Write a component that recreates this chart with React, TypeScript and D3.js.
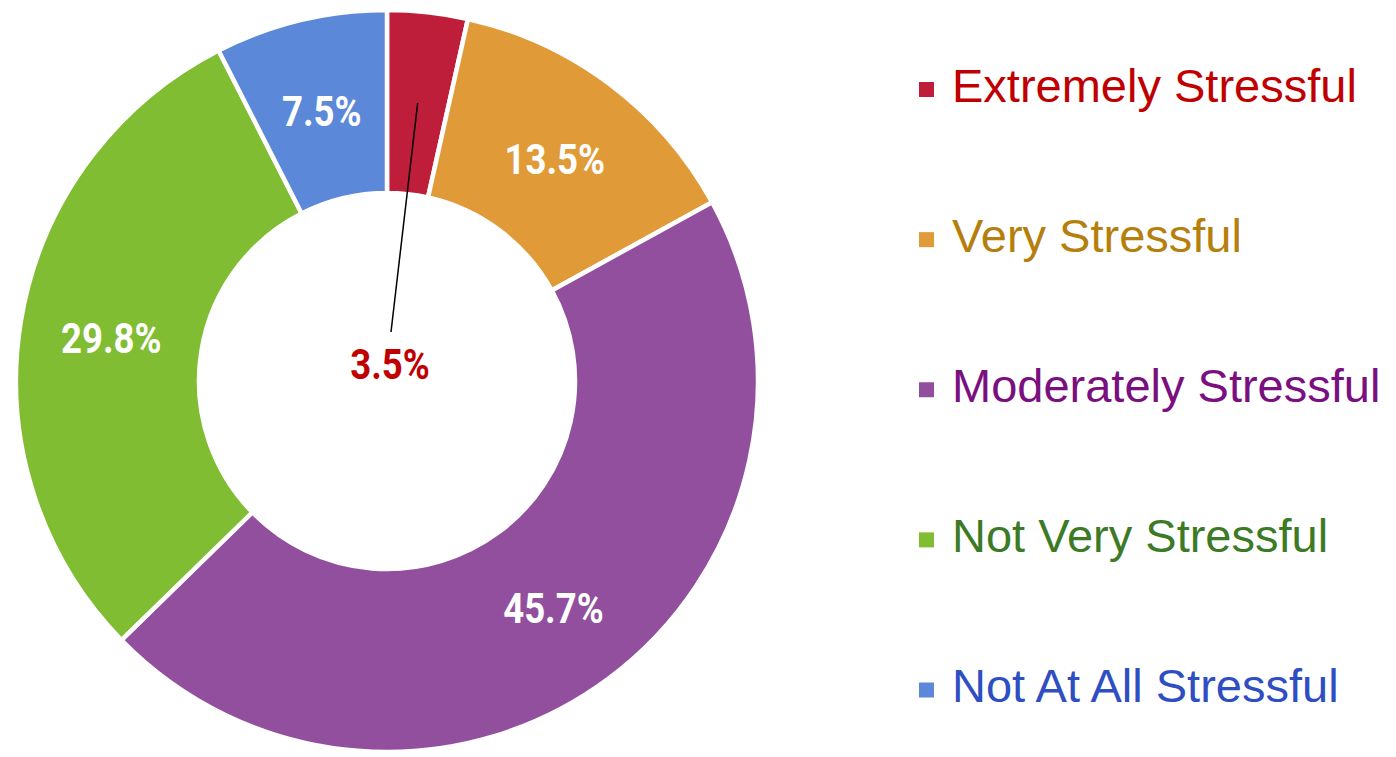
import React from "react";
import * as d3 from "d3";

const categories = [
  "Extremely Stressful",
  "Very Stressful",
  "Moderately Stressful",
  "Not Very Stressful",
  "Not At All Stressful",
];
const values = [3.5, 13.5, 45.7, 29.8, 7.5];
const sliceColors = ["#BE1E3A", "#E09B38", "#914F9E", "#80BD33", "#5B88D8"];
const legendTextColors = ["#C00000", "#B57F0E", "#7A0F7F", "#3D7A26", "#2E4EC2"];

const W = 1396;
const H = 757;
const cx = 387;
const cy = 381;
const outerR = 371;
const innerR = 188;

export default function App() {
  const pie = d3.pie<number>().sort(null).value((d) => d)(values);
  const arc = d3.arc<d3.PieArcDatum<number>>().innerRadius(innerR).outerRadius(outerR);
  const labelArc = d3
    .arc<d3.PieArcDatum<number>>()
    .innerRadius((innerR + outerR) / 2)
    .outerRadius((innerR + outerR) / 2);

  const legendY = d3.scalePoint<string>().domain(categories).range([89.5, 690]);

  return (
    <svg
      width={W}
      height={H}
      style={{ position: "absolute", left: 0, top: 0, background: "#fff" }}
    >
      <g transform={`translate(${cx},${cy})`}>
        {pie.map((p, i) => (
          <path
            key={i}
            d={arc(p) || ""}
            fill={sliceColors[i]}
            stroke="#fff"
            strokeWidth={4.5}
            strokeLinejoin="miter"
          />
        ))}
        {pie.map((p, i) => {
          const [x, y] = labelArc.centroid(p);
          if (i === 0) {
            return (
              <g key={"l" + i}>
                <line x1={x} y1={y} x2={4} y2={-49} stroke="#000" strokeWidth={1.5} />
                <text
                  transform={`translate(${3},${-2}) scale(0.85,1)`}
                  textAnchor="middle"
                  fontFamily="Roboto, sans-serif"
                  fontWeight={700}
                  fontSize={43}
                  fill="#C00000"
                >
                  {values[i].toFixed(1) + "%"}
                </text>
              </g>
            );
          }
          return (
            <text
              key={"l" + i}
              transform={`translate(${x},${y + 17}) scale(0.85,1)`}
              textAnchor="middle"
              fontFamily="Roboto, sans-serif"
              fontWeight={700}
              fontSize={43}
              fill="#fff"
            >
              {values[i].toFixed(1) + "%"}
            </text>
          );
        })}
      </g>
      <g>
        {categories.map((c, i) => {
          const y = legendY(c) as number;
          return (
            <g key={c}>
              <rect x={919} y={y - 7.5} width={15} height={15} fill={sliceColors[i]} />
              <text
                x={952}
                y={y + 12}
                fontFamily="'Liberation Sans', Arial, sans-serif"
                fontSize={47}
                fill={legendTextColors[i]}
              >
                {c}
              </text>
            </g>
          );
        })}
      </g>
    </svg>
  );
}
